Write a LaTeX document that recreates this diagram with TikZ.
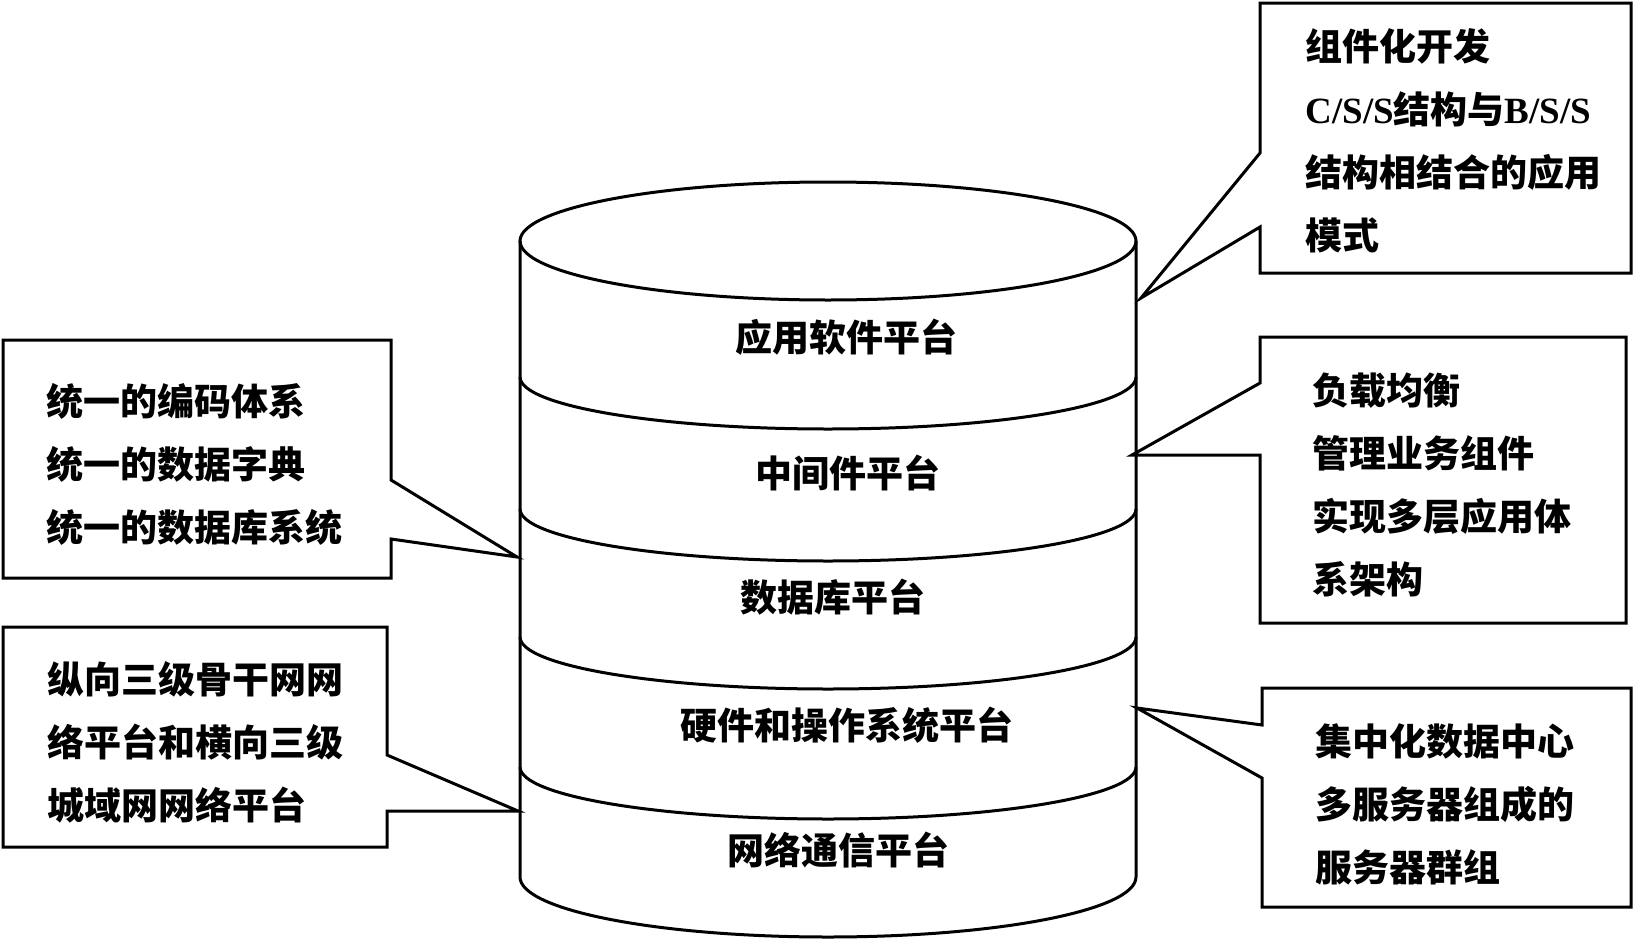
\documentclass[tikz,border=0pt]{standalone}
\usepackage{fontspec}
\newfontfamily\cjk{Noto Sans CJK SC}
\newfontfamily\latin{Liberation Serif}
\usetikzlibrary{calc}

\tikzset{
  layer/.style={font=\cjk\bfseries\fontsize{18.5pt}{22pt}\selectfont},
  note/.style={anchor=west, align=left, inner sep=0pt,
    font=\cjk\bfseries\fontsize{18.5pt}{31.5pt}\selectfont},
}

\begin{document}
\begin{tikzpicture}[x=0.5pt, y=-0.5pt, line width=1.5pt]
\useasboundingbox (0,0) rectangle (1633,942);

% Cylinder
\draw (828,241) ellipse [x radius=154pt, y radius=29.5pt];
\draw (520,241) -- (520,877) arc [start angle=180, end angle=360, x radius=154pt, y radius=30pt] -- (1136,241);
\foreach \y in {377,509,637,767}
  \draw (520,\y) arc [start angle=180, end angle=360, x radius=154pt, y radius=26pt];

% Layers
\node[layer] (app) at (846,337) {应用软件平台};
\node[layer] (mid) at (848,473) {中间件平台};
\node[layer] (db) at (833,597) {数据库平台};
\node[layer] (hw) at (847,725) {硬件和操作系统平台};
\node[layer] (net) at (838,850) {网络通信平台};

% Callouts right
\coordinate (tipapp) at (1141,298);
\draw (1260,153) -- (1260,3) -- (1631,3) -- (1631,273) -- (1260,273) -- (1260,227) -- (tipapp) -- cycle;
\node[note] (noteapp) at (1304,141) {组件化开发\\{\latin C/S/S}结构与{\latin B/S/S}\\结构相结合的应用\\模式};

\coordinate (tipmid) at (1132,455);
\draw (1260,383) -- (1260,337) -- (1626,337) -- (1626,623) -- (1260,623) -- (1260,455) -- (tipmid) -- cycle;
\node[note] (notemid) at (1311,485) {负载均衡\\管理业务组件\\实现多层应用体\\系架构};

\coordinate (tiphw) at (1137,708);
\draw (1262,725) -- (1262,688) -- (1631,688) -- (1631,907) -- (1262,907) -- (1262,778) -- (tiphw) -- cycle;
\node[note] (notehw) at (1314,804) {集中化数据中心\\多服务器组成的\\服务器群组};

% Callouts left
\coordinate (tipdb) at (517,557);
\draw (391,480) -- (391,340) -- (3,340) -- (3,578) -- (391,578) -- (391,539) -- (tipdb) -- cycle;
\node[note] (notedb) at (45,464) {统一的编码体系\\统一的数据字典\\统一的数据库系统};

\coordinate (tipnet) at (518,811);
\draw (387,755) -- (387,627) -- (3,627) -- (3,847) -- (387,847) -- (387,811) -- (tipnet) -- cycle;
\node[note] (notenet) at (46,742) {纵向三级骨干网网\\络平台和横向三级\\城域网网络平台};
\end{tikzpicture}
\end{document}
